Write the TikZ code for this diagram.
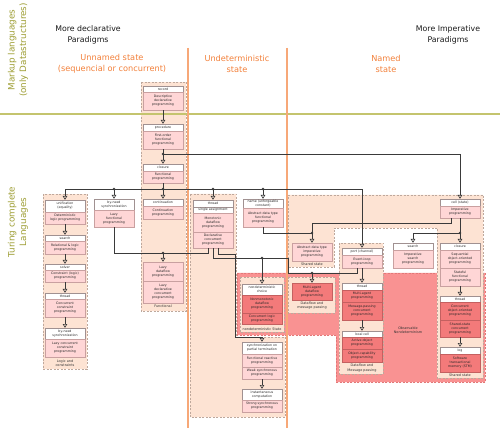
\documentclass[tikz,border=0pt]{standalone}
\usepackage{fontspec}
\setmainfont{DejaVu Sans}
\usetikzlibrary{arrows.meta}
\definecolor{peach}{RGB}{253,227,211}
\definecolor{peachb}{RGB}{190,168,156}
\definecolor{pinkb}{RGB}{255,214,214}
\definecolor{pinkd}{RGB}{201,160,160}
\definecolor{hdrd}{RGB}{160,145,145}
\definecolor{redr}{RGB}{249,146,146}
\definecolor{redrb}{RGB}{226,120,120}
\definecolor{redbx}{RGB}{243,122,122}
\definecolor{redbxd}{RGB}{196,96,96}
\definecolor{orgt}{RGB}{243,128,58}
\definecolor{orgl}{RGB}{247,168,120}
\definecolor{olivet}{RGB}{158,158,52}
\definecolor{olivel}{RGB}{196,196,110}
\definecolor{lnc}{RGB}{58,58,58}
\newcommand\bxf{\fontsize{3.2pt}{4.0pt}\selectfont}
\newcommand\lbf{\fontsize{3.4pt}{4.2pt}\selectfont}
\newcommand\ttf{\fontsize{7.8pt}{11pt}\selectfont}
\newcommand\orf{\fontsize{8.2pt}{11pt}\selectfont}
\newcommand\sdf{\fontsize{8.8pt}{11.5pt}\selectfont}
\newcommand\bx[6]{\node[#5, minimum height={(#4-#3)*1pt}] (#1) at (#2,{(#3+#4)/2}) {#6};}
\begin{document}
\begin{tikzpicture}[x=1pt,y=-1pt,
 bxbase/.style={rectangle, inner sep=0pt, minimum width=40pt, align=center, font=\bxf, line width=0.4pt, text=black!85},
 hd/.style={bxbase, draw=hdrd, fill=white},
 pk/.style={bxbase, draw=pinkd, fill=pinkb},
 dk/.style={bxbase, draw=redbxd, fill=redbx},
 grp/.style={fill=peach, draw=peachb, line width=0.5pt, dash pattern=on 2pt off 1.5pt},
 redgrp/.style={fill=redr, draw=redrb, line width=0.5pt, dash pattern=on 2pt off 1.5pt},
 lbl/.style={font=\lbf, align=center, text=black!80, inner sep=0pt},
 ttl/.style={font=\ttf, align=center, text=black!90, inner sep=0pt},
 org/.style={font=\orf, align=center, text=orgt, inner sep=0pt},
 side/.style={font=\sdf, align=center, text=olivet, inner sep=0pt, rotate=90},
 ln/.style={draw=lnc, line width=0.6pt},
 arr/.style={ln, -{Triangle[open, width=4.5pt, length=3.8pt]}},
 dotc/.style={fill=lnc}]
\fill[white] (0,0) rectangle (500,435);
\useasboundingbox (0,0) rectangle (500,435);

% regions
\path[grp] (141,82) rectangle (186,311);
\path[grp] (43,194) rectangle (87,369);
\path[grp] (190,194) -- (236,194) -- (236,337) -- (285,337) -- (285,417) -- (190,417) -- cycle;
\path[redgrp] (237,273) -- (485,273) -- (485,382) -- (336,382) -- (336,335) -- (237,335) -- cycle;
\path[grp] (288,195) -- (483,195) -- (483,378) -- (437,378) -- (437,228) -- (334,228) -- (334,267) -- (288,267) -- cycle;
\path[grp] (240,277) rectangle (284,332);
\path[grp] (288,277) rectangle (335,313);
\path[grp] (339,243) rectangle (383,374);

% separators
\draw[olivel, line width=1.1pt] (0,114) -- (500,114);
\draw[orgl, line width=1.5pt] (188,48) -- (188,428);
\draw[orgl, line width=1.5pt] (287,48) -- (287,428);

% titles
\node[side] (mk) at (18,50) {Markup languages\\(only Datastructures)};
\node[side] (tc) at (18,222) {Turing complete\\Languages};
\node[ttl] (md) at (88,35) {More declarative\\Paradigms};
\node[ttl] (mi) at (448,35) {More Imperative\\Paradigms};
\node[org] (us) at (112,63.5) {Unnamed state\\(sequencial or concurrent)};
\node[org] (ud) at (237,63.5) {Undeterministic\\state};
\node[org] (ns) at (386,63.5) {Named\\state};

% group labels
\node[lbl] (gl1) at (163,306) {Functional};
\node[lbl] (gl2) at (65,363) {Logic and\\constraints};
\node[lbl] (gl3) at (312,264) {Shared state};
\node[lbl] (gl4) at (312,305.5) {Dataflow and\\message passing};
\node[lbl] (gl5) at (262,329) {nondeterministic State};
\node[lbl] (gl6) at (362,368) {Dataflow and\\Message passing};
\node[lbl] (gl7) at (460,375) {Shared state};
\node[lbl] (gl8) at (408,330) {Observable\\Nondeterminism};

% column A
\bx{recH}{163}{86}{92}{hd}{record}
\bx{recB}{163}{92}{110}{pk}{Descriptive\\declarative\\programming}
\bx{procH}{163}{124}{131}{hd}{procedure}
\bx{procB}{163}{131}{149}{pk}{First-order\\functional\\programming}
\bx{cloH}{163}{164}{171}{hd}{closure}
\bx{cloB}{163}{171}{183}{pk}{Functional\\programming}
\bx{contH}{163}{199}{206}{hd}{continuation}
\bx{contB}{163}{206}{219}{pk}{Continuation\\programming}
\bx{lazyB1}{163}{262}{281}{pk}{Lazy\\dataflow\\programming}
\bx{lazyB2}{163}{281}{303}{pk}{Lazy\\declarative\\concurrent\\programming}

% column B
\bx{uniH}{65}{200}{212}{hd}{unification\\(equality)}
\bx{uniB}{65}{212}{224}{pk}{Deterministic\\logic programming}
\bx{seaH}{65}{235}{241}{hd}{search}
\bx{seaB}{65}{241}{254}{pk}{Relational \& logic\\programming}
\bx{solH}{65}{264}{270}{hd}{solver}
\bx{solB}{65}{270}{282}{pk}{Constraint (logic)\\programming}
\bx{thrH}{65}{293}{299}{hd}{thread}
\bx{thrB}{65}{299}{317}{pk}{Concurrent\\constraint\\programming}
\bx{bnH}{65}{328}{339}{hd}{by-need\\synchronization}
\bx{bnB}{65}{339}{357}{pk}{Lazy concurrent\\constraint\\programming}

% column C
\bx{lfH}{114}{199}{210}{hd}{by-need\\synchronization}
\bx{lfB}{114}{210}{227}{pk}{Lazy\\functional\\programming}

% column D
\bx{thdH}{213}{200}{207}{hd}{thread}
\bx{thdH2}{213}{207}{213}{hd}{single assignment}
\bx{thdB1}{213}{213}{232}{pk}{Monotonic\\dataflow\\programming}
\bx{thdB2}{213}{232}{248}{pk}{Declarative\\concurrent\\programming}

% name
\bx{nmH}{263}{199}{208}{hd}{name (unforgeable\\constant)}
\bx{nmB}{263}{208}{227}{pk}{Abstract data type\\functional\\programming}

% nondeterministic
\bx{ndH}{262}{284}{295}{hd}{nondeterministic\\choice}
\bx{ndB1}{262}{295}{313}{dk}{Nonmonotonic\\dataflow\\programming}
\bx{ndB2}{262}{313}{324}{dk}{Concurrent logic\\programming}

% synchronous
\bx{syH}{262}{342}{354}{hd}{synchronization on\\partial termination}
\bx{syB1}{262}{354}{367}{pk}{Functional reactive\\programming}
\bx{syB2}{262}{367}{379}{pk}{Weak synchronous\\programming}
\bx{icH}{262}{389}{400}{hd}{instantaneous\\computation}
\bx{icB}{262}{400}{412}{pk}{Strong synchronous\\programming}

% shared state / multi-agent
\bx{adtB}{312}{243}{261}{pk}{Abstract data type\\imperative\\programming}
\bx{maB}{312}{283}{300}{dk}{Multi-agent\\dataflow\\programming}

% port column
\bx{ptH}{362}{248}{255}{hd}{port (channel)}
\bx{ptB}{362}{255}{268}{pk}{Event-loop\\programming}
\bx{pthH}{362}{283}{290}{hd}{thread}
\bx{pthB1}{362}{290}{302}{dk}{Multi-agent\\programming}
\bx{pthB2}{362}{302}{320}{dk}{Message-passing\\concurrent\\programming}
\bx{lcH}{362}{331}{337}{hd}{local cell}
\bx{lcB1}{362}{337}{349}{dk}{Active object\\programming}
\bx{lcB2}{362}{349}{362}{dk}{Object-capability\\programming}

% imperative search
\bx{isH}{413}{243}{250}{hd}{search}
\bx{isB}{413}{250}{268}{pk}{Imperative\\search\\programming}

% named column
\bx{cellH}{460}{199}{206}{hd}{cell (state)}
\bx{cellB}{460}{206}{218}{pk}{Imperative\\programming}
\bx{ncH}{460}{243}{250}{hd}{closure}
\bx{ncB1}{460}{250}{268}{pk}{Sequential\\object-oriented\\programming}
\bx{ncB2}{460}{268}{286}{pk}{Stateful\\functional\\programming}
\bx{ntH}{460}{296}{302}{hd}{thread}
\bx{ntB1}{460}{302}{320}{dk}{Concurrent\\object-oriented\\programming}
\bx{ntB2}{460}{320}{337}{dk}{Shared-state\\concurrent\\programming}
\bx{logH}{460}{347}{354}{hd}{log}
\bx{logB}{460}{354}{372}{dk}{Software\\transactional\\memory (STM)}

% junctions
\coordinate (j1) at (163,154);
\coordinate (j2) at (163,189);
\coordinate (j3) at (lfH.north |- j2);
\coordinate (j4) at (thdH.north |- j2);
\coordinate (j5) at (nmH.north |- j2);
\coordinate (j6) at (163,253);
\coordinate (j8) at (288,258);
\coordinate (j7) at (ndH.north |- j8);
\coordinate (j10) at (312,273);
\coordinate (j11) at (312,233);
\coordinate (k2) at (312,223);
\coordinate (j12) at (460,233);
\coordinate (k3) at (235,254);
\coordinate (k4) at (235,337);
\coordinate (k5) at (262,337);

% connectors
\draw[arr] (recB.south) -- (procH.north);
\draw[ln] (procB.south) -- (j1);
\draw[arr] (j1) -- (cloH.north);
\draw[arr] (j1) -| (cellH.north);
\draw[ln] (cloB.south) -- (j2);
\draw[arr] (j2) -- (contH.north);
\draw[arr] (j2) -| (uniH.north);
\draw[arr] (j2) -| (ptH.north);
\draw[arr] (j3) -- (lfH.north);
\draw[arr] (j4) -- (thdH.north);
\draw[arr] (j5) -- (nmH.north);
\draw[arr] (uniB.south) -- (seaH.north);
\draw[arr] (seaB.south) -- (solH.north);
\draw[arr] (solB.south) -- (thrH.north);
\draw[arr] (thrB.south) -- (bnH.north);
\draw[ln] (lfB.south) |- (j6);
\draw[arr] (j6) -- (lazyB1.north);
\draw[ln] (j6) -| ([xshift=-5pt]thdB2.south);
\draw[ln] (thdB2.south) |- (j8) |- (j10);
\draw[arr] (j7) -- (ndH.north);
\draw[arr] (j10) -- (maB.north);
\draw[ln] ([xshift=-5pt]ptB.south) |- (j10);
\draw[arr] (ptB.south) -- (pthH.north);
\draw[arr] (pthB2.south) -- (lcH.north);
\draw[ln] (nmB.south) |- (j11);
\draw[ln] ([xshift=-9pt]cellB.south) |- (k2) -- (j11);
\draw[arr] (j11) -- (adtB.north);
\draw[ln] (cellB.south) -- (j12);
\draw[arr] (j12) -- (ncH.north);
\draw[arr] (j12) -| (isH.north);
\draw[arr] (ncB2.south) -- (ntH.north);
\draw[arr] (ntB2.south) -- (logH.north);
\draw[arr] ([xshift=5pt]thdB2.south) |- (k3) -- (k4) -- (k5) -- (syH.north);
\draw[arr] (syB2.south) -- (icH.north);

% dots
\foreach \p in {j1,j2,j3,j4,j5,j6,j7,j10,j11,j12}
  \fill[dotc] (\p) circle[radius=1.3pt];
\end{tikzpicture}
\end{document}
